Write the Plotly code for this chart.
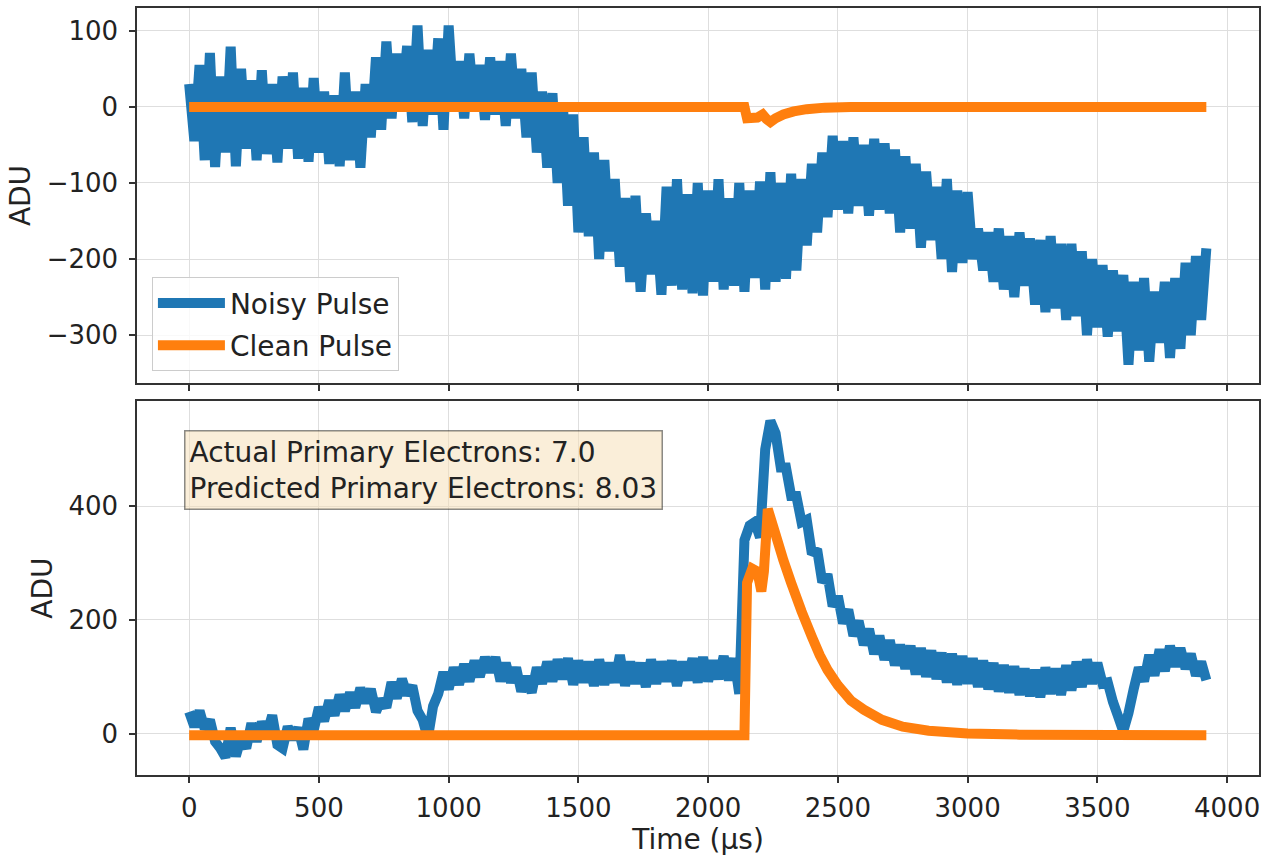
import plotly.graph_objects as go
from plotly.subplots import make_subplots

# ---- data ----
time_us = list(range(0, 3921, 20))

noisy_top = [
    30, -45, 55, -70, 71, -79, 40, -60, 79, -78,
    50, -55, 35, -70, 48, -62, 30, -73, 40, -55,
    45, -68, 25, -72, 38, -60, 20, -75, 15, -78,
    45, -70, 20, -80, 30, -40, 65, -30, 86, -15,
    70, 5, 80, -20, 107, -25, 75, -10, 90, -30,
    107, 0, 60, -15, 70, -5, 55, -17, 65, -10,
    60, -25, 70, -15, 50, -40, 45, -60, 20, -80,
    18, -100, 5, -130, -10, -165, -40, -170, -60, -200,
    -70, -190, -95, -210, -120, -230, -117, -243, -140, -220,
    -150, -247, -105, -235, -95, -240, -115, -245, -100, -248,
    -110, -230, -95, -240, -120, -235, -100, -243, -110, -225,
    -98, -240, -86, -230, -100, -226, -88, -215, -95, -182,
    -75, -165, -60, -145, -38, -135, -45, -140, -40, -130,
    -50, -143, -42, -135, -48, -140, -56, -165, -65, -160,
    -75, -185, -85, -175, -105, -200, -95, -217, -110, -205,
    -112, -200, -160, -215, -165, -230, -160, -240, -170, -250,
    -165, -235, -173, -260, -175, -270, -170, -265, -180, -280,
    -180, -275, -190, -300, -200, -290, -208, -302, -215, -295,
    -221, -339, -230, -320, -225, -335, -243, -310, -230, -330,
    -225, -318, -205, -300, -196, -280, -186,
]

noisy_bottom = [
    38, 12, 40, 8, 24, -14, -26, -42, 10, -40,
    -8, -26, 18, -14, 20, 0, 32, -20, -26, 12,
    -10, 10, -28, 26, 6, 46, 22, 58, 32, 68,
    40, 72, 46, 80, 54, 78, 38, 60, 46, 90,
    62, 96, 68, 84, 40, 24, -8, 48, 70, 108,
    78, 116, 86, 122, 92, 128, 100, 134, 108, 134,
    92, 124, 90, 116, 74, 100, 72, 116, 88, 126,
    92, 130, 96, 132, 86, 128, 90, 126, 84, 130,
    86, 124, 90, 138, 84, 126, 88, 124, 82, 130,
    88, 126, 92, 128, 84, 126, 94, 132, 90, 134,
    92, 128, 96, 136, 94, 132, 70, 340, 366, 372,
    345, 500, 550, 528, 468, 468, 418, 418, 372, 376,
    316, 324, 266, 280, 224, 242, 194, 218, 172, 198,
    156, 184, 140, 172, 130, 164, 120, 156, 114, 154,
    104, 150, 100, 146, 96, 142, 90, 140, 86, 136,
    88, 132, 82, 128, 78, 124, 74, 120, 72, 118,
    68, 114, 66, 112, 64, 116, 70, 114, 68, 120,
    76, 126, 82, 130, 88, 124, 88, 90, 56, 30,
    4, 36, 78, 116, 92, 138, 102, 148, 110, 154,
    118, 150, 114, 140, 102, 126, 94,
]

clean_top_t = [0, 2140, 2150, 2190, 2210, 2225, 2240, 2260, 2290, 2330, 2380, 2450, 2550, 3920]
clean_top_v = [0, 0, -15, -14, -10, -16, -20, -15, -10, -6, -3, -1, 0, 0]

clean_bottom_t = [0, 2140, 2150, 2170, 2190, 2205, 2215, 2230, 2260, 2290, 2320, 2360,
                  2400, 2430, 2460, 2500, 2550, 2600, 2670, 2750, 2850, 3000, 3200, 3920]
clean_bottom_v = [-3, -3, 265, 290, 285, 250, 285, 395, 350, 305, 265, 215,
                  170, 138, 112, 85, 58, 42, 24, 12, 5, 0, -2, -3]

x_ticks = [0, 500, 1000, 1500, 2000, 2500, 3000, 3500, 4000]
top_ticks = [-300, -200, -100, 0, 100]
top_tick_text = ["\u2212300", "\u2212200", "\u2212100", "0", "100"]
bottom_ticks = [0, 200, 400]

BLUE = "#1f77b4"
ORANGE = "#ff7f0e"
FONT = "DejaVu Sans"
TICK_FS = 26
FS = 28
INK = "#222222"

fig = make_subplots(rows=2, cols=1, shared_xaxes=True)

fig.add_trace(go.Scatter(x=time_us, y=noisy_top, mode="lines", name="Noisy Pulse",
                         legendgroup="a",
                         line=dict(color=BLUE, width=10, simplify=False)), row=1, col=1)
fig.add_trace(go.Scatter(x=clean_top_t, y=clean_top_v, mode="lines", name="Clean Pulse",
                         legendgroup="b",
                         line=dict(color=ORANGE, width=10, simplify=False)), row=1, col=1)
fig.add_trace(go.Scatter(x=time_us, y=noisy_bottom, mode="lines", name="Noisy Pulse",
                         showlegend=False, legendgroup="a",
                         line=dict(color=BLUE, width=10, simplify=False)), row=2, col=1)
fig.add_trace(go.Scatter(x=clean_bottom_t, y=clean_bottom_v, mode="lines", name="Clean Pulse",
                         showlegend=False, legendgroup="b",
                         line=dict(color=ORANGE, width=10, simplify=False)), row=2, col=1)

axis_common = dict(showline=True, linecolor="#333333", linewidth=1.5, mirror=True,
                   ticks="outside", ticklen=6, tickwidth=1.5, tickcolor="#333333",
                   showgrid=True, gridcolor="#dedede", gridwidth=1, zeroline=False,
                   tickfont=dict(family=FONT, size=TICK_FS, color=INK))

fig.update_xaxes(range=[-201, 4123], tickvals=x_ticks, **axis_common)
fig.update_xaxes(showticklabels=False, row=1, col=1)
fig.update_xaxes(title=dict(text="Time (µs)", font=dict(family=FONT, size=FS, color=INK), standoff=3),
                 ticklabelstandoff=3, row=2, col=1)

fig.update_yaxes(**axis_common)
fig.update_yaxes(range=[-363, 130], tickvals=top_ticks, ticktext=top_tick_text,
                 domain=[0.5111, 1.0], ticklabelstandoff=6,
                 title=dict(text="ADU", font=dict(family=FONT, size=FS, color=INK), standoff=8),
                 row=1, col=1)
fig.update_yaxes(range=[-73, 585], tickvals=bottom_ticks, domain=[0.0, 0.4876], ticklabelstandoff=6,
                 title=dict(text="ADU", font=dict(family=FONT, size=FS, color=INK), standoff=8),
                 row=2, col=1)

fig.add_annotation(xref="paper", yref="paper", x=0.0418, y=0.4498, xanchor="left", yanchor="top",
                   text="Actual Primary Electrons: 7.0<br>Predicted Primary Electrons: 8.03",
                   align="left", showarrow=False,
                   font=dict(family=FONT, size=FS, color=INK),
                   bgcolor="rgba(245,222,179,0.5)", bordercolor="rgba(0,0,0,0.45)",
                   borderwidth=1.5, borderpad=4)

fig.update_layout(
    width=1264, height=857,
    margin=dict(l=137, r=3, t=8, b=82),
    paper_bgcolor="white", plot_bgcolor="white",
    font=dict(family=FONT, size=FS, color=INK),
    legend=dict(x=0.0133, y=0.649, xanchor="left", yanchor="top",
                traceorder="grouped", tracegroupgap=3, itemwidth=67,
                bgcolor="rgba(255,255,255,0.8)", bordercolor="#cccccc", borderwidth=1,
                font=dict(family=FONT, size=FS, color=INK)),
)

fig.write_html("out.html")
